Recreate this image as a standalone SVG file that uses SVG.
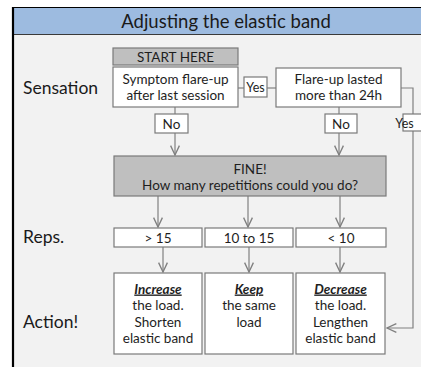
<svg xmlns="http://www.w3.org/2000/svg" width="421" height="367" viewBox="0 0 421 367">
  <defs>
    <marker id="chev" viewBox="0 0 10 10" refX="9.5" refY="5" markerWidth="11" markerHeight="11" markerUnits="userSpaceOnUse" orient="auto">
      <path d="M1,1 L9.5,5 L1,9" fill="none" stroke="#7f7f7f" stroke-width="1.2"/>
    </marker>
    <style>
      .lbl { font-family: "Lato", "Open Sans", sans-serif; fill: #1a1a1a; }
      .box { fill: #ffffff; stroke: #7a7a7a; stroke-width: 1.2; }
      .gbox { fill: #bfbfbf; stroke: #7a7a7a; stroke-width: 1.2; }
      .txt { font-family: "Lato", "Open Sans", sans-serif; font-size: 13.5px; fill: #1e1e1e; text-anchor: middle; }
      .side { font-family: "Lato", "Open Sans", sans-serif; font-size: 17.5px; fill: #1a1a1a; }
      .em { font-weight: bold; font-style: italic; text-decoration: underline; }
      .wire { fill: none; stroke: #808080; stroke-width: 1.2; }
      .arrow { fill: none; stroke: #808080; stroke-width: 1.2; marker-end: url(#chev); }
    </style>
  </defs>

  <!-- background and frame -->
  <rect x="0" y="0" width="421" height="367" fill="#ffffff"/>
  <rect x="13" y="7" width="420" height="370" fill="#f2f2f2"/>
  <rect x="13" y="7" width="420" height="28" fill="#9dbbe0"/>
  <line x1="13" y1="34.5" x2="421" y2="34.5" stroke="#3a3a3a" stroke-width="1.2"/>
  <line x1="12" y1="7.5" x2="421" y2="7.5" stroke="#000000" stroke-width="1.2"/>
  <line x1="13" y1="7" x2="13" y2="367" stroke="#000000" stroke-width="2.2"/>
  <text class="lbl" x="226" y="27.5" font-size="18.5" text-anchor="middle">Adjusting the elastic band</text>

  <!-- row labels -->
  <text class="side" x="23" y="94">Sensation</text>
  <text class="side" x="23" y="243">Reps.</text>
  <text class="side" x="23" y="328">Action!</text>

  <!-- connectors -->
  <g id="connectors">
    <line class="wire" x1="238" y1="88" x2="244" y2="88"/>
    <line class="wire" x1="267" y1="88" x2="276" y2="88"/>
    <line class="wire" x1="175" y1="107" x2="175" y2="114"/>
    <line class="arrow" x1="175" y1="133" x2="175" y2="155"/>
    <line class="wire" x1="339" y1="107" x2="339" y2="114"/>
    <line class="arrow" x1="339" y1="133" x2="339" y2="155"/>
    <polyline class="wire" points="401,88 413,88 413,114"/>
    <polyline class="arrow" points="413,131 413,328 387,328"/>
    <line class="arrow" x1="158" y1="196" x2="158" y2="227"/>
    <line class="arrow" x1="248" y1="196" x2="248" y2="227"/>
    <line class="arrow" x1="340" y1="196" x2="340" y2="227"/>
    <line class="arrow" x1="163" y1="247" x2="163" y2="272"/>
    <line class="arrow" x1="249" y1="247" x2="249" y2="272"/>
    <line class="arrow" x1="340" y1="247" x2="340" y2="272"/>
  </g>

  <g id="start">
    <rect class="gbox" x="113" y="48" width="125" height="17"/>
    <text class="txt" x="175.5" y="61.5">START HERE</text>
  </g>

  <g id="symptom">
    <rect class="box" x="113" y="67" width="125" height="40"/>
    <text class="txt" x="175.5" y="84">Symptom flare-up</text>
    <text class="txt" x="175.5" y="100">after last session</text>
  </g>

  <g id="yes1">
    <rect class="box" x="244" y="77" width="23" height="20"/>
    <text class="txt" x="255.5" y="91.5" style="font-size:12.5px">Yes</text>
  </g>

  <g id="flare">
    <rect class="box" x="276" y="68" width="125" height="39"/>
    <text class="txt" x="338.5" y="84">Flare-up lasted</text>
    <text class="txt" x="338.5" y="100">more than 24h</text>
  </g>

  <g id="no1">
    <rect class="box" x="155" y="114" width="33" height="19"/>
    <text class="txt" x="171.5" y="128.5">No</text>
  </g>

  <g id="no2">
    <rect class="box" x="325" y="114" width="32" height="19"/>
    <text class="txt" x="341" y="128.5">No</text>
  </g>

  <g id="yes2">
    <rect class="box" x="403" y="114" width="24" height="17"/>
    <text class="txt" x="404.5" y="127.5" text-anchor="start" style="font-size:12.5px">Yes</text>
  </g>

  <g id="fine">
    <rect class="gbox" x="114" y="156" width="272" height="40"/>
    <text class="txt" x="250" y="174">FINE!</text>
    <text class="txt" x="250" y="189.5">How many repetitions could you do?</text>
  </g>

  <g id="reps-high">
    <rect class="box" x="114" y="228" width="88" height="19"/>
    <text class="txt" x="158" y="242.5">&gt; 15</text>
  </g>
  <g id="reps-mid">
    <rect class="box" x="205" y="228" width="88" height="19"/>
    <text class="txt" x="249" y="242.5">10 to 15</text>
  </g>
  <g id="reps-low">
    <rect class="box" x="296" y="228" width="90" height="19"/>
    <text class="txt" x="341" y="242.5">&lt; 10</text>
  </g>

  <g id="increase">
    <rect class="box" x="114" y="273" width="88" height="81"/>
    <text class="txt" x="158" y="293.5"><tspan class="em">Increase</tspan></text>
    <text class="txt" x="158" y="310">the load.</text>
    <text class="txt" x="158" y="326.5">Shorten</text>
    <text class="txt" x="158" y="343">elastic band</text>
  </g>

  <g id="keep">
    <rect class="box" x="205" y="273" width="88" height="81"/>
    <text class="txt" x="249" y="293.5"><tspan class="em">Keep</tspan></text>
    <text class="txt" x="249" y="310">the same</text>
    <text class="txt" x="249" y="326.5">load</text>
  </g>

  <g id="decrease">
    <rect class="box" x="296" y="273" width="89" height="81"/>
    <text class="txt" x="340.5" y="293.5"><tspan class="em">Decrease</tspan></text>
    <text class="txt" x="340.5" y="310">the load.</text>
    <text class="txt" x="340.5" y="326.5">Lengthen</text>
    <text class="txt" x="340.5" y="343">elastic band</text>
  </g>
</svg>
